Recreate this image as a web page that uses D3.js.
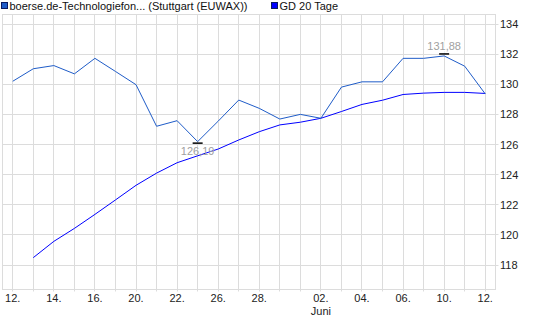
<!DOCTYPE html>
<html>
<head>
<meta charset="utf-8">
<script src="https://cdn.jsdelivr.net/npm/d3@7"></script>
<style>
  html, body { margin: 0; padding: 0; background: #fff; }
  svg { display: block; font-family: "Liberation Sans", Arial, sans-serif; }
</style>
</head>
<body>
<svg id="chart" width="537" height="323"></svg>
<script>
// ---- data ----
const days = ["12.05","13.05","14.05","15.05","16.05","19.05","20.05","21.05","22.05","23.05",
              "26.05","27.05","28.05","29.05","30.05","02.06","03.06","04.06","05.06","06.06",
              "09.06","10.06","11.06","12.06"];
const price = [130.2, 131.03, 131.24, 130.69, 131.72, 130.85, 129.97, 127.21, 127.58, 126.19,
               127.55, 128.95, 128.4, 127.69, 128.0, 127.74, 129.81, 130.16, 130.16, 131.72,
               131.72, 131.88, 131.2, 129.36];
const ma20 = [null, 118.49, 119.57, 120.43, 121.36, 122.32, 123.29, 124.1, 124.79, 125.25,
              125.7, 126.3, 126.85, 127.3, 127.48, 127.74, 128.19, 128.66, 128.94, 129.32,
              129.41, 129.46, 129.46, 129.39];
const xTickDays = ["12.05","14.05","16.05","20.05","22.05","26.05","28.05","02.06","04.06","06.06","10.06","12.06"];
const xTickLabels = ["12.","14.","16.","20.","22.","26.","28.","02.","04.","06.","10.","12."];
const monthLabels = [{day: "02.06", text: "Juni"}];
const yTicks = [118, 120, 122, 124, 126, 128, 130, 132, 134];
const seriesNames = ["boerse.de-Technologiefon... (Stuttgart (EUWAX))", "GD 20 Tage"];
const minLabel = "126,19";
const maxLabel = "131,88";

// ---- layout ----
const svg = d3.select("#chart");
const L = 2.5, R = 495.5, T = 14.5, B = 289.5;
const priceColor = "#1f5cc8";
const maColor = "#0000ff";
const gridColor = "#dcdcdc";

const x = d3.scalePoint().domain(days).range([L, R]).padding(0.5);
const y = d3.scaleLinear().domain([118, 134]).range([265, 24]);
const px = v => Math.floor(v) + 0.5;

// grid
const g = svg.append("g");
g.selectAll(".vg").data(days).join("line")
  .attr("x1", d => px(x(d))).attr("x2", d => px(x(d)))
  .attr("y1", T).attr("y2", B + 2)
  .attr("stroke", gridColor).attr("stroke-width", 1);
g.selectAll(".hg").data(yTicks).join("line")
  .attr("x1", L).attr("x2", R + 3)
  .attr("y1", d => px(y(d))).attr("y2", d => px(y(d)))
  .attr("stroke", gridColor).attr("stroke-width", 1);
// frame
g.append("rect").attr("x", L).attr("y", T).attr("width", R - L).attr("height", B - T)
  .attr("fill", "none").attr("stroke", gridColor).attr("stroke-width", 1);

// y axis labels (right)
svg.append("g").selectAll("text").data(yTicks).join("text")
  .attr("x", 500).attr("y", d => y(d) + 4)
  .attr("font-size", 11).attr("fill", "#222")
  .text(d => d);

// x axis labels
svg.append("g").selectAll("text").data(xTickDays).join("text")
  .attr("x", d => x(d)).attr("y", 302)
  .attr("text-anchor", "middle").attr("font-size", 11).attr("fill", "#222")
  .text((d, i) => xTickLabels[i]);
svg.append("g").selectAll("text").data(monthLabels).join("text")
  .attr("x", d => x(d.day)).attr("y", 315)
  .attr("text-anchor", "middle").attr("font-size", 11).attr("fill", "#222")
  .text(d => d.text);

// lines
const lineP = d3.line().x((d, i) => x(days[i])).y(d => y(d));
const lineM = d3.line().defined(d => d != null).x((d, i) => x(days[i])).y(d => y(d));
svg.append("path").datum(ma20).attr("d", lineM)
  .attr("fill", "none").attr("stroke", maColor).attr("stroke-width", 1);
svg.append("path").datum(price).attr("d", lineP)
  .attr("fill", "none").attr("stroke", priceColor).attr("stroke-width", 1);

// min/max markers and labels
const iMin = d3.minIndex(price), iMax = d3.maxIndex(price);
const mk = svg.append("g");
mk.append("line").attr("x1", x(days[iMin]) - 5).attr("x2", x(days[iMin]) + 5)
  .attr("y1", y(price[iMin]) + 1.5).attr("y2", y(price[iMin]) + 1.5)
  .attr("stroke", "#000").attr("stroke-width", 1.5);
mk.append("line").attr("x1", x(days[iMax]) - 5).attr("x2", x(days[iMax]) + 5)
  .attr("y1", y(price[iMax]) - 2).attr("y2", y(price[iMax]) - 2)
  .attr("stroke", "#000").attr("stroke-width", 1.5);
mk.append("text").attr("x", x(days[iMin])).attr("y", y(price[iMin]) + 13)
  .attr("text-anchor", "middle").attr("font-size", 11).attr("fill", "#a0a0a0")
  .text(minLabel);
mk.append("text").attr("x", x(days[iMax])).attr("y", y(price[iMax]) - 6)
  .attr("text-anchor", "middle").attr("font-size", 11).attr("fill", "#a0a0a0")
  .attr("stroke", "#fff").attr("stroke-width", 3).attr("paint-order", "stroke")
  .text(maxLabel);

// legend
const legendX = [1.5, 271.5];
const legendColors = [priceColor, maColor];
const lg = svg.append("g");
seriesNames.forEach((name, i) => {
  lg.append("rect").attr("x", legendX[i]).attr("y", 2.5).attr("width", 6).attr("height", 6)
    .attr("fill", legendColors[i]).attr("stroke", "#0a1a60").attr("stroke-width", 1);
  lg.append("text").attr("x", legendX[i] + 8).attr("y", 10)
    .attr("font-size", 11).attr("fill", "#111").text(name);
});
</script>
</body>
</html>
